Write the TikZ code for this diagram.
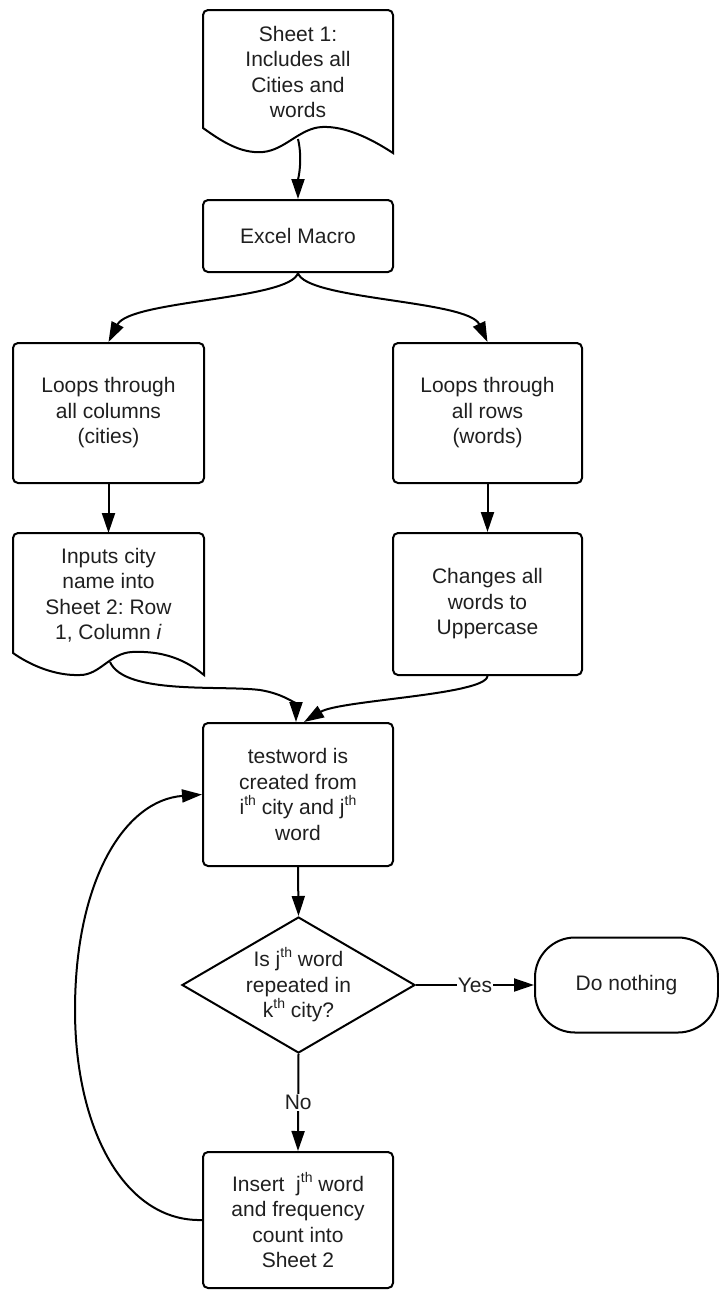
\documentclass[tikz,border=0pt]{standalone}
\usepackage{fontspec}
\setmainfont{Liberation Sans}
\usetikzlibrary{arrows.meta,shapes.geometric}
\newcommand\supth[1]{\raisebox{0.42em}{\fontsize{14}{14}\selectfont #1}}
\frenchspacing
\begin{document}
\begin{tikzpicture}[x=1pt,y=-1pt,
  line width=2pt,
  arr/.style={-{Triangle[length=20pt,width=13pt]}},
  txt/.style={align=center,font=\fontsize{21}{25.5}\selectfont\frenchspacing,text=black!88},
  procbox/.style={txt,draw,rounded corners=5pt,inner sep=0pt},
  lbl/.style={txt,fill=white,inner sep=1pt},
]
\useasboundingbox (0,0) rectangle (719,1291);

% Sheet 1 document shape
\draw (203,128) [rounded corners=5pt]-- (203,10) -- (393,10) [sharp corners]-- (393,153)
  .. controls (370,138) and (345,126) .. (322,127)
  .. controls (300,128) and (285,150) .. (263,152)
  .. controls (240,154) and (220,140) .. (203,128) -- cycle;
\node[txt] (s1) at (298,72) {Sheet 1:\\Includes all\\Cities and\\words};
\coordinate (s1w) at (298,139);

\node[procbox,minimum width=190pt,minimum height=72pt] (em) at (298,236) {Excel Macro};
\node[procbox,minimum width=191pt,minimum height=140pt] (lb) at (108.5,413) {Loops through\\all columns\\(cities)};
\node[procbox,minimum width=189pt,minimum height=140pt] (rb) at (487.5,413) {Loops through\\all rows\\(words)};

% left document shape
\draw (13,653) [rounded corners=5pt]-- (13,533) -- (204,533) [sharp corners]-- (204,675)
  .. controls (180,655) and (155,651) .. (132,652)
  .. controls (110,653) and (100,675) .. (80,675)
  .. controls (55,676) and (30,665) .. (13,653) -- cycle;
\node[txt] (ld) at (108.5,595) {Inputs city\\name into\\Sheet 2: Row\\1, Column \textit{i}};
\coordinate (ldtop) at (108.5,533);
\coordinate (ldw) at (110,662);

\node[procbox,minimum width=189pt,minimum height=142pt] (rr) at (487.5,604) {Changes all\\words to\\Uppercase};
\node[procbox,minimum width=190pt,minimum height=143pt] (tw) at (298,794.5) {testword is\\created from\\i\supth{th} city and j\supth{th}\\word};
\node[txt,draw,diamond,aspect=1.71,inner sep=0pt,minimum width=233pt,minimum height=136pt] (dm) at (298.5,985) {Is j\supth{th} word\\repeated in\\k\supth{th} city?};
\node[procbox,rounded corners=40pt,minimum width=183pt,minimum height=95pt] (dn) at (626.5,985) {Do nothing};
\node[procbox,minimum width=190pt,minimum height=136pt] (ib) at (298,1220) {Insert\ \ j\supth{th} word\\and frequency\\count into\\Sheet 2};

% connectors
\draw[arr] (s1w) .. controls (303,160) and (298,180) .. (em.north);
\draw[arr] (em.south) .. controls (290,300) and (130,300) .. (lb.north);
\draw[arr] (em.south) .. controls (306,300) and (468,300) .. (rb.north);
\draw[arr] (lb.south) -- (ldtop);
\draw[arr] (rb.south) -- (rr.north);
\draw[arr] (ldw) .. controls (125,695) and (220,685) .. (260,690)
  .. controls (285,694) and (296,705) .. ([xshift=-2pt]tw.north);
\draw[arr] (rr.south) .. controls (486,695) and (340,700) .. ([xshift=6pt]tw.north);
\draw[arr] (tw.south) -- (dm.north);
\draw[arr] (dm.east) -- node[lbl]{Yes} (dn.west);
\draw[arr] (dm.south) -- node[lbl]{No} (ib.north);
\draw[arr] (ib.west) .. controls (125,1222) and (75,1130) .. (75,1010)
  .. controls (75,880) and (125,800) .. (tw.west);
\end{tikzpicture}
\end{document}
